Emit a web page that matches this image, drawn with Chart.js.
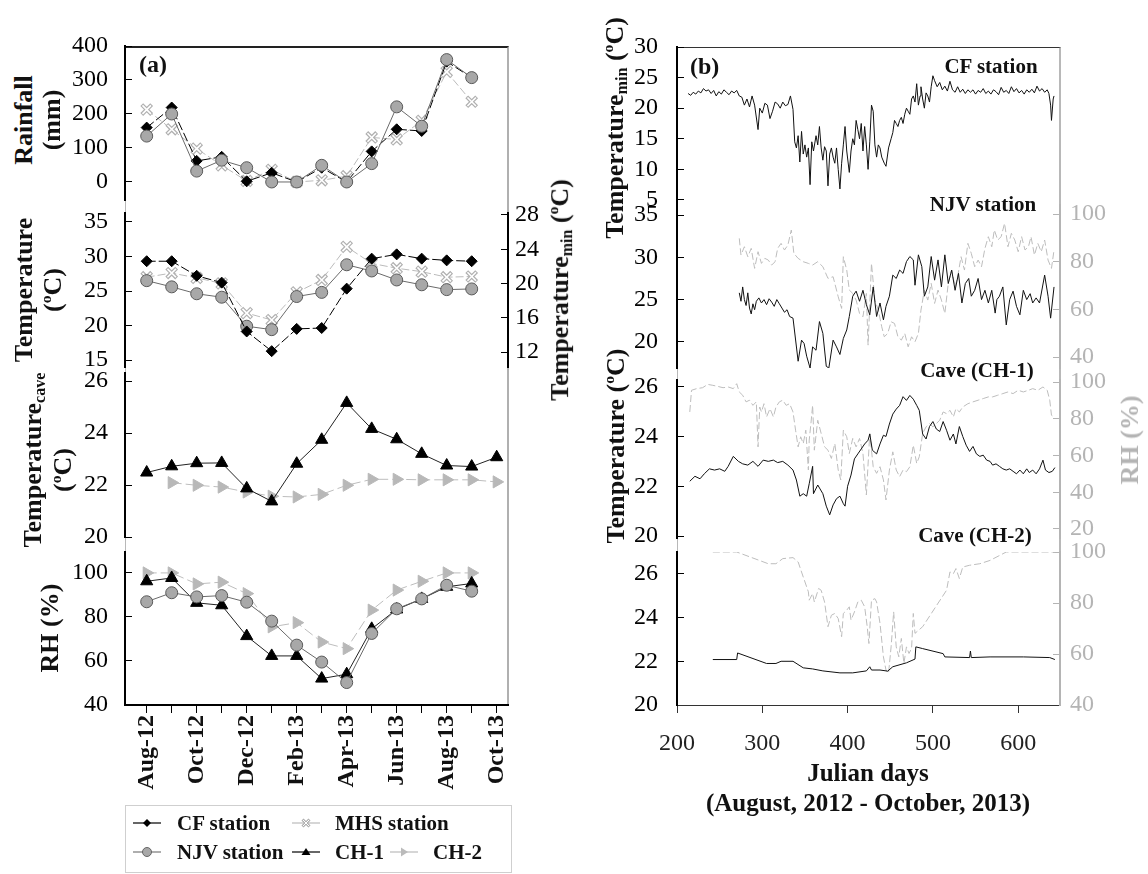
<!DOCTYPE html>
<html>
<head>
<meta charset="utf-8">
<script src="https://cdn.jsdelivr.net/npm/chart.js@4"></script>
<style>
  body { margin: 0; background: #fff; }
  #page { position: relative; width: 1148px; height: 874px; overflow: hidden;
          font-family: 'Liberation Serif', 'Times New Roman', serif; color: #111; }
  canvas { position: absolute; }
  .t { position: absolute; white-space: nowrap; font-weight: bold; line-height: 1; }
  .frame { position: absolute; box-sizing: border-box; }
  sub { font-size: 0.62em; vertical-align: -0.25em; }
</style>
</head>
<body>
<div id="page"></div>
<script>
// ---- panel (a): monthly values, Aug-12 .. Oct-13 ----
const months = [0, 1, 2, 3, 4, 5, 6, 7, 8, 9, 10, 11, 12, 13, 14];
const monthLabels = ['Aug-12', '', 'Oct-12', '', 'Dec-12', '', 'Feb-13', '', 'Apr-13', '', 'Jun-13', '', 'Aug-13', '', 'Oct-13'];

const rainCF  = [160, 219, 62, 74, 2, 27, 0, 42, 0, 90, 155, 150, 354, 307, null];
const rainNJV = [135, 200, 32, 64, 42, 0, 0, 49, 0, 54, 221, 164, 360, 307, null];
const rainMHS = [213, 155, 98, 49, 3, 36, 0, 5, 17, 131, 125, 180, 324, 236, null];

const tminCF  = [22.6, 22.6, 20.9, 20.1, 14.4, 12.1, 14.7, 14.8, 19.4, 22.9, 23.4, 22.9, 22.7, 22.6, null];
const tempNJV = [26.5, 25.6, 24.6, 24.1, 19.9, 19.4, 24.2, 24.8, 28.8, 27.9, 26.6, 25.9, 25.2, 25.3, null];
const tempMHS = [27.0, 27.6, 26.9, 26.1, 21.8, 20.8, 24.8, 26.6, 31.4, 29.0, 28.3, 27.8, 27.0, 27.1, null];

const caveCH1 = [22.48, 22.72, 22.84, 22.85, 21.87, 21.37, 22.82, 23.74, 25.16, 24.16, 23.76, 23.2, 22.75, 22.71, 23.07];
const caveCH2 = [null, 22.09, 21.99, 21.92, 21.73, 21.57, 21.54, 21.64, 21.99, 22.22, 22.22, 22.2, 22.2, 22.2, 22.12];

const rhCH1 = [96.2, 97.7, 86.4, 85.3, 71.3, 62.3, 62.3, 52, 54, 74.6, 83.4, 88.2, 93.7, 95.2, null];
const rhNJV = [86.9, 91, 89.1, 89.7, 86.7, 78.1, 67.2, 59.5, 50.2, 72.5, 83.7, 88.2, 94.4, 91.7, null];
const rhCH2 = [100, 100, 95, 95.8, 90.6, 75.5, 77.4, 68.6, 65.6, 83.1, 92.2, 96.2, 100, 100, null];

const rainTicks = [0, 100, 200, 300, 400];
const tempTicks = [15, 20, 25, 30, 35];
const tminTicks = [12, 16, 20, 24, 28];
const caveTicks = [20, 22, 24, 26];
const rhTicks = [40, 60, 80, 100];

// ---- panel (b): daily values against Julian day ----
const dayTicks = [200, 300, 400, 500, 600];

const cfDays = [213,216,219,222,225,228,231,234,237,240,243,246,249,252,255,258,261,264,267,270,
  273,276,279,282,285,288,291,295,297,300,303,306,309,312,315,318,321,324,327,330,
  333,336,338,340,342,344,346,348,350,352,354,356,358,360,363,365,367,369,371,373,
  375,377,379,381,383,385,387,389,391,393,395,397,399,402,404,406,408,410,412,414,
  416,418,420,422,424,426,428,430,432,434,436,438,440,443,445,448,451,453,455,457,
  459,461,463,465,467,469,471,473,475,477,479,481,483,485,486,488,490,492,494,496,
  498,500,502,505,508,511,514,517,520,523,526,529,532,535,538,541,544,547,550,553,
  556,559,562,565,568,571,574,577,580,583,586,589,592,595,598,601,604,607,610,613,
  616,619,622,625,628,631,634,636,638,639,641,642];
const cfTmin = [22.4,22.1,22.6,22.3,22.8,22.5,23.2,22.8,23.0,22.4,22.9,22.0,22.7,22.3,23.0,22.6,22.2,22.8,22.5,22.9,
  22.0,21.8,20.5,21.5,20.2,22.0,20.5,16.5,20.0,19.2,20.8,20.5,18.3,19.5,21.0,20.7,20.0,21.0,20.4,20.6,
  22.0,19.8,14.5,13.5,15.5,11.2,16.2,12.5,14.0,12.0,13.5,7.5,14.5,13.0,15.5,14.0,17.0,13.5,11.5,13.7,
  13.0,7.3,12.5,13.5,12.0,11.0,13.5,10.0,6.8,11.0,14.0,17.0,13.0,9.5,13.0,15.0,14.0,18.0,16.5,15.0,
  17.5,13.0,17.0,14.0,10.0,14.5,20.5,19.5,14.0,12.0,14.0,13.5,12.0,11.0,10.5,13.5,15.0,16.0,18.0,17.5,
  17.0,18.0,18.5,17.5,19.0,20.0,19.5,19.0,21.5,22.0,21.0,24.0,20.5,22.0,23.5,21.5,20.0,22.5,22.0,21.0,
  23.5,25.3,24.5,23.5,24.2,23.0,23.6,22.8,24.4,23.0,22.6,23.5,22.6,23.1,22.4,23.0,22.6,23.0,22.3,22.9,
  22.6,23.2,22.4,22.8,22.3,23.0,22.7,22.2,23.4,22.6,22.9,22.4,23.5,22.7,23.2,22.5,22.9,22.3,23.0,22.6,
  23.1,22.5,23.6,22.8,23.2,22.6,23.0,22.4,20.5,18.0,21.5,22.0];

const njvDays = [273,275,277,279,281,283,285,287,289,291,293,296,299,302,305,308,311,314,317,320,
  323,326,329,332,336,342,346,349,352,356,359,363,367,371,375,378,383,387,391,395,
  399,402,406,410,414,418,422,426,430,434,438,442,445,449,453,457,461,465,469,473,
  477,479,483,487,490,494,498,502,506,510,514,518,522,526,530,534,538,542,545,549,
  553,557,561,565,569,573,575,578,582,586,590,594,598,602,606,610,614,617,621,625,
  631,635,638,642];
const njvTemp = [25.8,24.8,26.5,25.0,24.3,25.8,24.0,23.3,24.5,23.8,24.8,25.2,24.6,25.0,24.4,25.1,24.7,24.2,25.0,24.5,
  24.0,23.5,23.8,23.0,22.8,17.7,20.2,19.8,18.3,16.9,19.4,19.0,22.4,21.0,17.1,16.9,20.2,19.4,18.5,20.4,
  21.4,23.0,25.4,26.0,24.8,26.1,24.4,23.2,26.5,23.0,24.6,22.6,24.2,25.4,27.9,27.5,28.5,28.1,29.5,30.1,
  29.7,26.7,30.3,28.9,25.4,26.5,30.1,27.3,29.7,26.5,30.3,26.9,28.5,26.1,28.1,24.6,26.9,27.5,25.4,26.1,
  27.5,25.0,26.1,24.6,26.1,23.4,25.0,25.4,26.5,22.0,25.0,26.0,24.2,23.2,26.1,25.0,25.7,24.6,25.2,24.6,
  27.9,25.4,22.8,26.5];

const njvRhDays = [273,275,279,283,287,291,295,299,303,307,311,315,318,322,326,330,334,337,342,348,
  354,359,365,371,377,383,389,393,395,399,402,406,410,414,418,422,424,428,432,436,
  440,443,447,451,455,459,463,467,471,475,479,483,486,490,494,498,502,506,510,514,
  518,522,526,529,533,537,541,545,549,553,557,561,565,569,572,576,580,584,588,592,
  596,600,604,608,612,615,619,623,627,631,635,639,642];
const njvRh = [89.8,82.8,86.3,82.1,85.6,77.2,84.2,79.3,81.4,80.7,78.6,80.0,85.6,87.7,84.9,87.0,93.3,83.5,81.4,80.0,
  79.3,78.6,80.0,77.9,73.0,73.7,65.3,60.4,82.1,76.5,68.1,66.7,63.9,58.3,56.9,66.7,45.0,79.3,63.9,59.7,
  52.7,48.5,49.9,54.8,54.1,48.5,47.1,49.9,44.3,48.5,46.4,49.9,59.7,68.1,63.9,70.9,62.5,68.1,63.9,58.3,
  70.9,76.5,69.5,73.7,82.1,76.5,87.7,83.5,77.9,80.7,77.9,85.6,90.5,86.3,93.3,89.1,90.5,96.1,86.3,91.9,
  89.1,84.2,90.5,84.9,86.3,90.5,82.8,87.7,84.2,89.1,80.7,77.2,84.9];

const ch1Days = [215,221,227,232,238,244,250,256,260,266,272,277,283,289,295,301,307,313,318,324,
  330,336,340,344,348,352,355,359,360,365,371,375,379,383,387,391,395,397,400,404,
  408,412,416,420,424,426,429,434,438,442,445,449,453,457,461,465,469,473,477,481,
  484,488,492,496,500,504,508,512,516,520,524,527,531,535,539,543,547,551,555,559,
  563,567,570,574,578,582,586,590,594,598,602,606,610,613,617,621,625,629,632,636,
  640,643];
const ch1Temp = [22.2,22.4,22.3,22.5,22.7,22.65,22.7,22.6,22.8,23.2,23.0,22.9,22.85,23.0,22.8,23.05,23.0,23.05,22.95,23.0,
  22.85,22.65,22.25,21.6,21.7,21.6,22.1,22.8,21.7,22.05,21.7,21.2,20.85,21.25,21.5,21.6,21.3,21.2,22.0,22.45,
  23.1,23.3,23.5,23.7,23.85,24.1,23.45,23.3,23.7,24.05,24.0,24.5,24.9,25.1,25.25,25.6,25.45,25.65,25.5,25.25,
  25.05,24.1,23.9,24.4,24.6,24.3,24.2,24.6,24.25,23.85,24.1,23.7,24.4,24.0,23.65,23.4,23.6,23.3,23.2,23.25,
  23.05,23.0,22.85,22.9,22.8,22.7,22.65,22.7,22.6,22.5,22.65,22.5,22.7,22.55,22.65,22.5,22.7,23.05,22.65,22.55,
  22.6,22.75];

const ch1RhDays = [215,217,223,230,236,242,248,254,260,266,270,273,277,281,285,289,293,295,297,299,
  302,305,309,313,316,320,324,328,332,336,339,342,345,348,351,354,355,357,359,361,
  365,369,373,377,381,385,389,392,395,399,402,406,410,414,418,422,426,430,434,438,
  442,445,449,453,457,461,465,469,473,477,481,484,488,492,496,500,504,508,512,516,
  520,524,527,531,535,541,547,553,559,565,570,576,582,588,594,600,606,612,617,623,
  629,634,637,639,642];
const ch1Rh = [83.7,95.5,96.4,96.9,98.7,98.2,97.6,96.9,97.3,96.4,99.1,94.6,92.8,89.2,90.1,87.3,89.2,64.7,86.4,83.7,
  88.2,81.0,85.5,81.0,86.4,89.2,90.1,87.3,88.2,83.7,73.8,64.7,70.2,66.5,73.8,52.1,68.4,77.4,87.3,62.9,
  79.2,72.0,64.7,62.9,58.4,66.5,52.1,46.7,73.8,70.2,61.1,69.3,64.7,69.3,61.1,38.5,72.0,53.9,50.3,53.9,
  46.7,35.8,52.1,62.0,52.1,48.5,52.1,51.2,53.9,65.6,55.7,59.3,72.0,75.6,77.4,75.6,77.4,79.2,83.7,82.8,
  84.6,81.0,85.5,83.7,86.4,88.2,89.2,90.1,91.0,91.9,91.9,92.8,93.7,94.6,93.7,95.5,94.6,95.5,96.4,95.5,
  97.3,95.5,90.1,81.9,81.0];

const ch2Days = [242,270,271,305,316,322,336,348,359,371,391,406,422,426,428,438,447,453,469,479,
  480,488,512,514,543,544,545,567,606,637,643];
const ch2Temp = [22.08,22.08,22.38,21.9,21.9,22.0,22.0,21.7,21.65,21.56,21.47,21.47,21.56,21.75,21.6,21.6,21.55,21.75,21.93,22.1,
  22.66,22.58,22.35,22.2,22.17,22.47,22.17,22.2,22.2,22.17,22.08];

const ch2RhDays = [242,270,307,316,324,336,342,348,354,355,359,361,366,369,373,377,381,385,389,393,
  395,399,402,404,408,412,416,420,423,425,428,432,434,438,442,445,448,451,454,457,
  460,463,466,469,472,475,477,479,488,516,520,524,527,531,535,543,555,567,586,643];
const ch2Rh = [100,100,95.4,95.4,97.4,97.8,96.1,90.2,84.4,81.1,83.7,80.4,85.7,85.0,80.4,70.7,75.2,75.9,73.9,66.8,
  75.9,77.2,78.5,73.3,76.5,80.4,81.1,78.5,70.7,64.1,81.1,81.7,80.4,72.0,58.9,53.7,52.4,62.8,76.5,62.8,
  58.9,66.1,56.3,62.8,60.2,62.2,75.9,68.1,70.7,85.0,92.2,91.5,93.5,89.6,94.1,94.8,95.4,96.7,100,100];

// ---- helpers ----
const SERIF = "'Liberation Serif', 'Times New Roman', serif";
const GREY = '#b4b4b4';
const page = document.getElementById('page');

function pts(xs, ys) {
  return xs.map((x, i) => ({ x: x, y: ys[i] }));
}

function frame(x, y, w, h, css) {
  const d = document.createElement('div');
  d.className = 'frame';
  d.style.cssText = `left:${x}px;top:${y}px;width:${w}px;height:${h}px;` + css;
  page.appendChild(d);
}

function text(html, x, y, size, opt) {
  opt = opt || {};
  const d = document.createElement('div');
  d.className = 't';
  d.innerHTML = html;
  d.style.left = x + 'px';
  d.style.top = y + 'px';
  d.style.fontSize = size + 'px';
  if (opt.rot) d.style.transform = 'translate(-50%,-50%) rotate(-90deg)';
  else if (opt.left) d.style.transform = 'translate(0,-50%)';
  else d.style.transform = 'translate(-50%,-50%)';
  if (opt.color) d.style.color = opt.color;
  page.appendChild(d);
}

function axisY(pos, min, max, ticks, color, pad) {
  return {
    type: 'linear', position: pos, min: min, max: max,
    afterBuildTicks: s => { s.ticks = ticks.map(v => ({ value: v })); },
    border: { color: color, width: 2 },
    grid: { drawOnChartArea: false, tickLength: -7, color: color, lineWidth: 1 },
    ticks: { autoSkip: false, color: color, padding: pad, font: { family: SERIF, size: 24 }, callback: v => v }
  };
}

function blank(pos, min, max) {
  return { type: 'linear', position: pos, min: min, max: max,
    ticks: { display: false }, grid: { display: false }, border: { display: false } };
}

function noPad(s) {
  s.paddingLeft = 0; s.paddingRight = 0; s.paddingTop = 0; s.paddingBottom = 0;
}

function makeChart(rect, pad, datasets, scales) {
  const c = document.createElement('canvas');
  const w = rect.w + pad.l + pad.r, h = rect.h + pad.t + pad.b;
  c.width = w;
  c.height = h;
  c.style.left = (rect.x - pad.l) + 'px';
  c.style.top = (rect.y - pad.t) + 'px';
  c.style.width = w + 'px';
  c.style.height = h + 'px';
  page.appendChild(c);
  // fix the plot rectangle exactly
  scales.x.afterFit = s => { s.height = pad.b; noPad(s); };
  scales.y.afterFit = s => { s.width = pad.l; noPad(s); };
  scales.y2.afterFit = s => { s.width = pad.r; noPad(s); };
  return new Chart(c, {
    type: 'line',
    data: { datasets: datasets },
    options: {
      responsive: false, animation: false, devicePixelRatio: 1,
      layout: { padding: { top: pad.t, left: 0, right: 0, bottom: 0 }, autoPadding: false },
      plugins: { legend: { display: false }, tooltip: { enabled: false } },
      elements: { line: { tension: 0 } },
      scales: scales
    }
  });
}

// series styles for panel (a)
function sCF(data, axis) {
  return { data: pts(months, data), yAxisID: axis || 'y', borderColor: '#000', borderWidth: 1, borderDash: [9, 3],
    pointStyle: 'rectRot', pointRadius: 5.5, pointBackgroundColor: '#000', pointBorderColor: '#000' };
}
function sNJV(data) {
  return { data: pts(months, data), borderColor: '#6a6a6a', borderWidth: 1,
    pointStyle: 'circle', pointRadius: 6, pointBackgroundColor: '#a8a8a8', pointBorderColor: '#5a5a5a', pointBorderWidth: 1 };
}
// MHS: hollow-looking cross = thick grey X with a thin white X on top
function sMHS(data) {
  return { data: pts(months, data), borderColor: '#bbbbbb', borderWidth: 1, borderDash: [8, 3],
    pointStyle: 'crossRot', pointRadius: 7, pointBorderColor: '#b0b0b0', pointBorderWidth: 4 };
}
function sMHSinner(data) {
  return { data: pts(months, data), showLine: false,
    pointStyle: 'crossRot', pointRadius: 6, pointBorderColor: '#ffffff', pointBorderWidth: 1.6 };
}
function sCH1(data) {
  return { data: pts(months, data), borderColor: '#222', borderWidth: 1,
    pointStyle: 'triangle', pointRadius: 7, pointBackgroundColor: '#000', pointBorderColor: '#000' };
}
function sCH2(data) {
  return { data: pts(months, data), borderColor: '#bdbdbd', borderWidth: 1, borderDash: [10, 4],
    pointStyle: 'triangle', pointRotation: 90, pointRadius: 7, pointBackgroundColor: '#b8b8b8', pointBorderColor: '#b8b8b8' };
}
function daily(xs, ys, axis, grey) {
  return { data: pts(xs, ys), yAxisID: axis, pointRadius: 0, borderWidth: 1,
    borderColor: grey ? '#bdbdbd' : '#111', borderDash: grey ? [7, 3] : [] };
}

// ---- frames ----
frame(125, 46, 384, 660, 'border-top:2px solid #222;border-right:2px solid #b0b0b0;border-left:1px solid #b8b8b8;');
frame(677, 47, 384, 659, 'border-top:1px solid #333;border-right:2px solid #b8b8b8;border-left:1px solid #b8b8b8;');

// ---- panel (a) ----
const AX = { min: -0.868, max: 14.452 };
const padA = { l: 70, r: 60, t: 16, b: 16 };

makeChart({ x: 125, y: 46, w: 383, h: 154 }, padA,
  [sNJV(rainNJV), sCF(rainCF), sMHSinner(rainMHS), sMHS(rainMHS)],
  { x: blank('bottom', AX.min, AX.max), y: axisY('left', -53, 400, rainTicks, '#000', 24), y2: blank('right', 0, 1) });

makeChart({ x: 125, y: 213, w: 383, h: 154 }, padA,
  [sCF(tminCF, 'y2'), sNJV(tempNJV), sMHSinner(tempMHS), sMHS(tempMHS)],
  { x: blank('bottom', AX.min, AX.max), y: axisY('left', 13.99, 36.3, tempTicks, '#000', 24),
    y2: axisY('right', 10.25, 28.23, tminTicks, '#000', 14) });

makeChart({ x: 125, y: 373, w: 383, h: 164 }, padA,
  [sCH1(caveCH1), sCH2(caveCH2)],
  { x: blank('bottom', AX.min, AX.max), y: axisY('left', 20, 26.31, caveTicks, '#000', 24), y2: blank('right', 0, 1) });

makeChart({ x: 125, y: 552, w: 383, h: 153 }, { l: 70, r: 60, t: 16, b: 110 },
  [sNJV(rhNJV), sCH1(rhCH1), sCH2(rhCH2)],
  { x: { type: 'linear', position: 'bottom', min: AX.min, max: AX.max,
         afterBuildTicks: s => { s.ticks = months.map(v => ({ value: v })); },
         border: { color: '#000', width: 2 },
         grid: { drawOnChartArea: false, tickLength: 8, color: '#000' },
         ticks: { autoSkip: false, minRotation: 90, maxRotation: 90, padding: 2, color: '#111',
                  font: { family: SERIF, size: 24, weight: 'bold' }, callback: v => monthLabels[v] } },
    y: axisY('left', 40, 109.5, rhTicks, '#000', 24), y2: blank('right', 0, 1) });

// ---- panel (b) ----
const BX = { min: 200, max: 649 };
const padB = { l: 70, r: 60, t: 16, b: 16 };

makeChart({ x: 677, y: 47, w: 383, h: 156 }, padB,
  [daily(cfDays, cfTmin, 'y')],
  { x: blank('bottom', BX.min, BX.max), y: axisY('left', 4.5, 30, [5, 10, 15, 20, 25, 30], '#000', 26), y2: blank('right', 0, 1) });

makeChart({ x: 677, y: 205, w: 383, h: 163 }, padB,
  [daily(njvDays, njvTemp, 'y'), daily(njvRhDays, njvRh, 'y2', true)],
  { x: blank('bottom', BX.min, BX.max), y: axisY('left', 16.9, 36.2, [20, 25, 30, 35], '#000', 26),
    y2: axisY('right', 35.4, 103.8, rhTicks, GREY, 17) });

makeChart({ x: 677, y: 380, w: 383, h: 158 }, padB,
  [daily(ch1Days, ch1Temp, 'y'), daily(ch1RhDays, ch1Rh, 'y2', true)],
  { x: blank('bottom', BX.min, BX.max), y: axisY('left', 19.92, 26.27, caveTicks, '#000', 26),
    y2: axisY('right', 15.1, 101.1, [20, 40, 60, 80, 100], GREY, 17) });

makeChart({ x: 677, y: 552, w: 383, h: 153 }, { l: 70, r: 60, t: 16, b: 60 },
  [daily(ch2Days, ch2Temp, 'y'), daily(ch2RhDays, ch2Rh, 'y2', true)],
  { x: { type: 'linear', position: 'bottom', min: BX.min, max: BX.max,
         afterBuildTicks: s => { s.ticks = dayTicks.map(v => ({ value: v })); },
         border: { color: '#333', width: 1 },
         grid: { drawOnChartArea: false, tickLength: 8, color: '#333' },
         ticks: { autoSkip: false, padding: 16, color: '#222', font: { family: SERIF, size: 24 }, callback: v => v } },
    y: axisY('left', 20, 27, caveTicks, '#000', 26),
    y2: axisY('right', 40, 100, rhTicks, GREY, 17) });

// ---- texts, panel (a) ----
text('(a)', 139, 64, 24, { left: true });
text('Rainfall', 24, 120, 26, { rot: true });
text('(mm)', 52, 120, 26, { rot: true });
text('Temperature', 24, 290, 26, { rot: true });
text('(<sup style="font-size:0.6em">o</sup>C)', 52, 290, 26, { rot: true });
text('Temperature<sub>cave</sub>', 34, 460, 26, { rot: true });
text('(<sup style="font-size:0.6em">o</sup>C)', 62, 470, 26, { rot: true });
text('RH (%)', 50, 628, 26, { rot: true });
text('Temperature<sub>min</sub> (<sup style="font-size:0.6em">o</sup>C)', 560, 290, 26, { rot: true });

// legend
const lg = document.createElement('div');
lg.className = 'frame';
lg.style.cssText = 'left:125px;top:805px;width:387px;height:68px;border:1px solid #cfcfcf;';
page.appendChild(lg);
function legendMark(x, y, svgInner) {
  const d = document.createElement('div');
  d.style.cssText = `position:absolute;left:${x}px;top:${y - 10}px;width:30px;height:20px;`;
  d.innerHTML = '<svg width="30" height="20" viewBox="0 0 30 20">' + svgInner + '</svg>';
  page.appendChild(d);
}
legendMark(132, 823, '<line x1="1" y1="10" x2="29" y2="10" stroke="#000" stroke-width="1.2"/><polygon points="15,6 19,10 15,14 11,10" fill="#000"/>');
legendMark(291, 823, '<line x1="1" y1="10" x2="29" y2="10" stroke="#bbb" stroke-width="1.2"/><path d="M11.5,6.5 L18.5,13.5 M18.5,6.5 L11.5,13.5" stroke="#b0b0b0" stroke-width="3"/><path d="M12,7 L18,13 M18,7 L12,13" stroke="#fff" stroke-width="1"/>');
legendMark(132, 852, '<line x1="1" y1="10" x2="29" y2="10" stroke="#777" stroke-width="1.2"/><circle cx="15" cy="10" r="4.5" fill="#a8a8a8" stroke="#666"/>');
legendMark(291, 852, '<line x1="1" y1="10" x2="29" y2="10" stroke="#000" stroke-width="1.2"/><polygon points="15,6 19.5,13 10.5,13" fill="#000"/>');
legendMark(389, 852, '<line x1="1" y1="10" x2="29" y2="10" stroke="#bbb" stroke-width="1.2"/><polygon points="12,5.5 19,10 12,14.5" fill="#bbb"/>');
text('CF station', 177, 823, 21, { left: true });
text('MHS station', 335, 823, 21, { left: true });
text('NJV station', 177, 852, 21, { left: true });
text('CH-1', 335, 852, 21, { left: true });
text('CH-2', 433, 852, 21, { left: true });

// ---- texts, panel (b) ----
text('(b)', 690, 66, 24, { left: true });
text('CF station', 991, 66, 21);
text('NJV station', 983, 204, 21);
text('Cave (CH-1)', 977, 370, 21);
text('Cave (CH-2)', 975, 535, 21);
text('Temperature<sub>min</sub> (<sup style="font-size:0.6em">o</sup>C)', 615, 128, 26, { rot: true });
text('Temperature (<sup style="font-size:0.6em">o</sup>C)', 615, 446, 26, { rot: true });
text('RH (%)', 1130, 440, 26, { rot: true, color: GREY });
text('Julian days', 868, 772, 25);
text('(August, 2012 - October, 2013)', 868, 802, 25);
</script>
</body>
</html>
